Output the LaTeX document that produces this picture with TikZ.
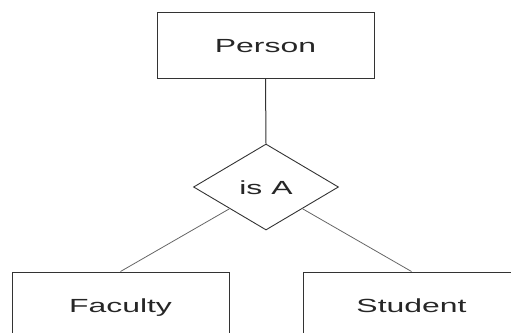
\documentclass[tikz,border=0pt]{standalone}
\usepackage{fontspec}
\setmainfont[FakeStretch=1.68]{Liberation Sans}
\usetikzlibrary{shapes.geometric}
\begin{document}
\begin{tikzpicture}[x=1pt,y=-1pt,
  entity/.style={draw=black!80,line width=1pt,minimum width=217pt,minimum height=66pt,inner sep=0pt,text height=17pt,text depth=2pt},
  relation/.style={draw=black!80,line width=0.9pt,diamond,aspect=1.686,minimum width=145pt,minimum height=86pt,inner sep=0pt,text height=17pt,text depth=2pt},
  link/.style={draw=black!60,line width=0.8pt}]
\clip (0,0) rectangle (511,332);
\fontsize{19}{22}\selectfont
\color{black!85}
\node [entity] (person) at (265.5,45) {Person};
\node [relation] (isa) at (266,187) {is A};
\node [entity] (faculty) at (120.5,305) {Faculty};
\node [entity] (student) at (411.5,305) {Student};
\draw [line width=1pt,black!80] (person.south) -- (isa.north);
\draw [link] (isa.south west) -- (faculty.north);
\draw [link] (isa.south east) -- (student.north);
\end{tikzpicture}
\end{document}
